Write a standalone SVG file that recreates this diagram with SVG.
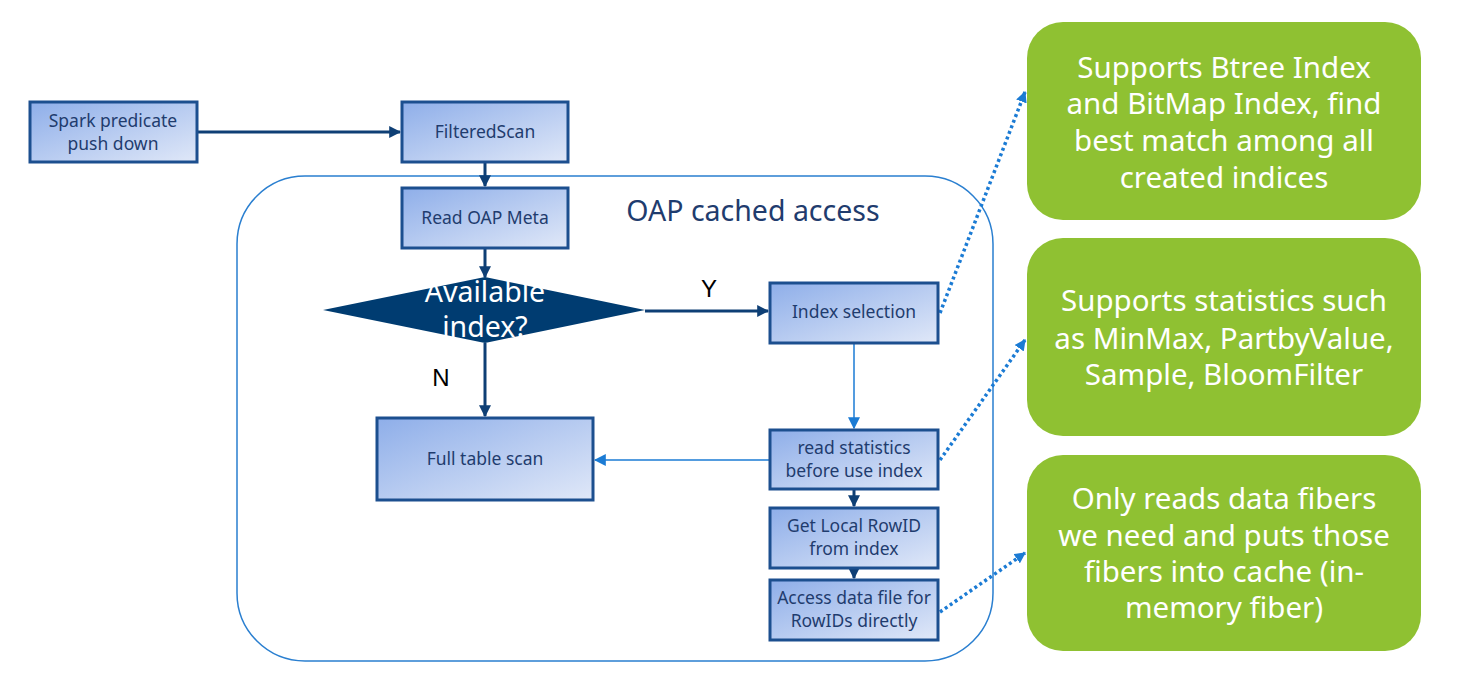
<svg xmlns="http://www.w3.org/2000/svg" width="1463" height="694" viewBox="0 0 1463 694">
<defs>
<linearGradient id="bg" x1="0" y1="0" x2="1" y2="1">
<stop offset="0" stop-color="#8eaee9"/>
<stop offset="1" stop-color="#e0e8f8"/>
</linearGradient>
<marker id="ad" viewBox="0 0 10 10" refX="9" refY="5" markerWidth="4" markerHeight="4" orient="auto" markerUnits="strokeWidth">
<path d="M0,0 L10,5 L0,10 z" fill="#0e3f75"/>
</marker>
<marker id="ab" viewBox="0 0 10 10" refX="9" refY="5" markerWidth="8" markerHeight="8" orient="auto" markerUnits="strokeWidth">
<path d="M0,0 L10,5 L0,10 z" fill="#1b7bd4"/>
</marker>
<marker id="ap" viewBox="0 0 10 10" refX="9" refY="5" markerWidth="3.2" markerHeight="3.2" orient="auto" markerUnits="strokeWidth">
<path d="M0,0 L10,5 L0,10 z" fill="#1b7bd4"/>
</marker>
</defs>
<style>
.box{fill:url(#bg);stroke:#1c4f8f;stroke-width:3}
.bt{font-family:"Noto Sans","Open Sans",sans-serif;font-size:17.5px;fill:#1f3c6e;text-anchor:middle}
.gb{fill:#8fc132}
.gt{font-family:"Noto Sans","Open Sans",sans-serif;font-size:29.5px;fill:#ffffff;text-anchor:middle}
.dk{stroke:#0e3f75;stroke-width:3;fill:none;marker-end:url(#ad)}
.lb{stroke:#1b7bd4;stroke-width:1.5;fill:none;marker-end:url(#ab)}
.dt{stroke:#1b7bd4;stroke-width:3.5;fill:none;stroke-dasharray:3 3;marker-end:url(#ap)}
.lab{font-family:"Liberation Sans",Arial,sans-serif;font-size:24px;fill:#000}
</style>
<rect width="1463" height="694" fill="#ffffff"/>
<g id="container">
<rect x="237" y="176" width="756" height="485" rx="68" ry="68" fill="none" stroke="#2a7fd0" stroke-width="1.5"/>
<text x="753" y="221" font-family="Noto Sans, Open Sans, sans-serif" font-size="28.5" fill="#1f3c6e" text-anchor="middle">OAP cached access</text>
</g>
<g id="connectors">
<line x1="197" y1="132" x2="400" y2="132" class="dk"/>
<line x1="485" y1="162" x2="485" y2="186" class="dk"/>
<line x1="485" y1="248" x2="485" y2="277" class="dk"/>
<line x1="645" y1="311" x2="768" y2="311" class="dk"/>
<line x1="485" y1="343" x2="485" y2="416" class="dk"/>
<line x1="854" y1="343" x2="854" y2="428" class="lb"/>
<line x1="770" y1="460" x2="595" y2="460" class="lb"/>
<line x1="854" y1="489" x2="854" y2="506" class="dk"/>
<line x1="854" y1="568" x2="854" y2="578" class="dk"/>
<line x1="940" y1="313" x2="1025" y2="92" class="dt"/>
<line x1="940" y1="460" x2="1025" y2="340" class="dt"/>
<line x1="940" y1="612" x2="1025" y2="553" class="dt"/>
<text x="709" y="297" class="lab" text-anchor="middle">Y</text>
<text x="441" y="386" class="lab" text-anchor="middle">N</text>
</g>
<g id="spark">
<rect x="30" y="102" width="167" height="60" class="box"/>
<text x="113" y="127" class="bt">Spark predicate</text>
<text x="113" y="150" class="bt">push down</text>
</g>
<g id="filteredscan">
<rect x="402" y="102" width="166" height="60" class="box"/>
<text x="485" y="138" class="bt">FilteredScan</text>
</g>
<g id="readmeta">
<rect x="402" y="188" width="166" height="60" class="box"/>
<text x="485" y="224" class="bt">Read OAP Meta</text>
</g>
<g id="decision">
<polygon points="323,310 485,277 645,310 485,343" fill="#003c71"/>
<text x="485" y="302" font-family="Noto Sans, Open Sans, sans-serif" font-size="28.5" fill="#ffffff" text-anchor="middle">Available</text>
<text x="485" y="337" font-family="Noto Sans, Open Sans, sans-serif" font-size="28.5" fill="#ffffff" text-anchor="middle">index?</text>
</g>
<g id="indexsel">
<rect x="770" y="283" width="168" height="60" class="box"/>
<text x="854" y="318" class="bt">Index selection</text>
</g>
<g id="fullscan">
<rect x="377" y="418" width="216" height="82" class="box"/>
<text x="485" y="465" class="bt">Full table scan</text>
</g>
<g id="readstats">
<rect x="770" y="430" width="168" height="59" class="box"/>
<text x="854" y="454" class="bt">read statistics</text>
<text x="854" y="477" class="bt">before use index</text>
</g>
<g id="getrowid">
<rect x="770" y="508" width="168" height="60" class="box"/>
<text x="854" y="532" class="bt">Get Local RowID</text>
<text x="854" y="555" class="bt">from index</text>
</g>
<g id="access">
<rect x="770" y="580" width="168" height="60" class="box"/>
<text x="854" y="604" class="bt">Access data file for</text>
<text x="854" y="627" class="bt">RowIDs directly</text>
</g>
<g id="note1">
<rect x="1027" y="22" width="394" height="198" rx="36" ry="36" class="gb"/>
<text x="1224" y="78" class="gt">Supports Btree Index</text>
<text x="1224" y="114" class="gt">and BitMap Index, find</text>
<text x="1224" y="151" class="gt">best match among all</text>
<text x="1224" y="188" class="gt">created indices</text>
</g>
<g id="note2">
<rect x="1027" y="238" width="394" height="198" rx="36" ry="36" class="gb"/>
<text x="1224" y="311" class="gt">Supports statistics such</text>
<text x="1224" y="349" class="gt">as MinMax, PartbyValue,</text>
<text x="1224" y="385" class="gt">Sample, BloomFilter</text>
</g>
<g id="note3">
<rect x="1027" y="455" width="394" height="196" rx="36" ry="36" class="gb"/>
<text x="1224" y="509" class="gt">Only reads data fibers</text>
<text x="1224" y="546" class="gt">we need and puts those</text>
<text x="1224" y="582" class="gt">fibers into cache (in-</text>
<text x="1224" y="618" class="gt">memory fiber)</text>
</g>
</svg>
